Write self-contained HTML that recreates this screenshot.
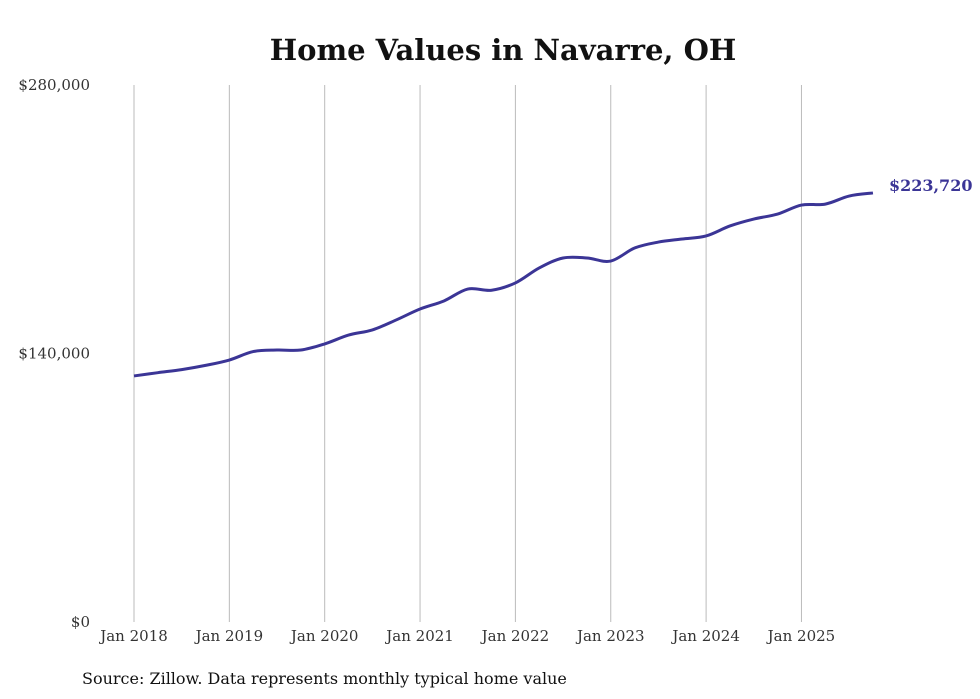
<!DOCTYPE html>
<html><head><meta charset="utf-8"><style>
body{margin:0;background:#fff;}
svg{display:block;font-family:"DejaVu Serif","Liberation Serif",serif;}
</style></head><body>
<svg id="chart" width="980" height="699">
<text x="503" y="60" text-anchor="middle" font-size="29" font-weight="bold" fill="#111">Home Values in Navarre, OH</text>
<g id="grid"></g>
<g id="yticks"></g>
<g id="xticks"></g>
<path id="line" fill="none" stroke="#3b3596" stroke-width="3"/>
<text id="endlabel" font-size="16" font-weight="bold" fill="#3b3596"></text>
<text x="82" y="684" font-size="16" fill="#111">Source: Zillow. Data represents monthly typical home value</text>
</svg>
<script>
const months=[0,3,6,9,12,15,18,21,24,27,30,33,36,39,42,45,48,51,54,57,60,63,66,69,72,75,78,81,84,87,90,93];
const values=[128300,130000,131600,133800,136600,141000,141800,141800,145000,149600,152300,157500,163200,167400,173600,173000,176800,184600,189800,189800,188200,195000,198100,199700,201300,206500,210100,212700,217400,217900,222100,223720];
const yTicks=[0,140000,280000];
const yTickLabels=["$0","$140,000","$280,000"];
const xYears=[2018,2019,2020,2021,2022,2023,2024,2025];
const NS="http://www.w3.org/2000/svg";
const x=m=>134+m*(95.35/12);
const y=v=>622-v*(537/280000);
function mk(t,a,p){const e=document.createElementNS(NS,t);for(const k in a)e.setAttribute(k,a[k]);p.appendChild(e);return e;}
const grid=document.getElementById('grid'),yt=document.getElementById('yticks'),xt=document.getElementById('xticks');
xYears.forEach((yr,i)=>{
 const gx=x(i*12);
 const l=mk('line',{x1:gx,x2:gx,y1:85,y2:622,stroke:'#bbb','stroke-width':1},grid);
 
 
 const t=mk('text',{x:gx,y:641,'text-anchor':'middle','font-size':15,fill:'#333'},xt);
 t.textContent='Jan '+yr;
 
 
});
yTicks.forEach((v,i)=>{
 const t=mk('text',{x:90,y:y(v)+5,'text-anchor':'end','font-size':15,fill:'#333'},yt);
 t.textContent=yTickLabels[i];
 
 
});
const pts=months.map((m,i)=>[x(m),y(values[i])]);
let d='M'+pts[0][0]+','+pts[0][1];
for(let i=0;i<pts.length-1;i++){
 const p0=pts[Math.max(0,i-1)],p1=pts[i],p2=pts[i+1],p3=pts[Math.min(pts.length-1,i+2)];
 const c1=[p1[0]+(p2[0]-p0[0])/6,p1[1]+(p2[1]-p0[1])/6],c2=[p2[0]-(p3[0]-p1[0])/6,p2[1]-(p3[1]-p1[1])/6];
 d+=' C'+c1+' '+c2+' '+p2;
}
document.getElementById('line').setAttribute('d',d);
const last=pts[pts.length-1],el=document.getElementById('endlabel');
el.setAttribute('x',last[0]+16);el.setAttribute('y',last[1]-2);
el.textContent='$'+values[values.length-1].toLocaleString('en-US');
</script>
</body></html>
